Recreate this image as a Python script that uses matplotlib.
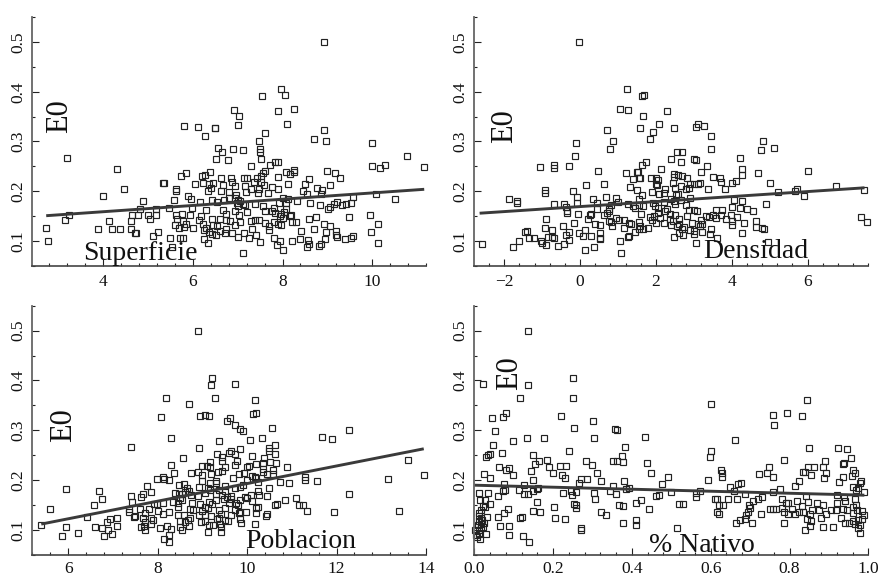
import matplotlib
matplotlib.use("Agg")
import matplotlib.pyplot as plt
from matplotlib.ticker import MultipleLocator

plt.rcParams['font.family'] = ['Liberation Serif', 'DejaVu Serif']

# readings: (x, E0)
superficie = [
(8.93,.50),(7.97,.405),(8.06,.393),(7.55,.391),(8.25,.365),(6.92,.364),(7.90,.362),(7.03,.351),(7.01,.333),(8.11,.335),
(5.81,.331),(6.12,.329),(6.49,.327),(6.50,.328),(8.93,.324),(7.62,.318),(6.28,.311),(8.71,.305),(8.97,.302),(7.47,.301),
(10.0,.297),(6.56,.286),(6.89,.284),(7.12,.283),(7.50,.284),(7.50,.279),(6.66,.278),(10.77,.270),(3.20,.267),(6.52,.265),
(7.51,.265),(6.78,.262),(7.83,.258),(7.89,.258),(7.71,.252),(7.29,.251),(10.0,.251),(10.29,.253),(11.16,.248),(10.18,.246),
(4.30,.245),(8.25,.243),(8.25,.239),(6.39,.238),(8.07,.238),(9.0,.240),(9.17,.236),(7.6,.24),(7.57,.236),(5.84,.236),
(5.73,.231),(8.16,.234),(6.2,.230),(6.27,.233),(9.29,.226),(8.6,.224),(6.63,.226),(6.85,.227),(7.44,.226),(7.15,.226),
(7.21,.226),(7.9,.228),(7.52,.231),(6.88,.218),(6.22,.217),(6.05,.215),(6.36,.215),(6.46,.216),(7.37,.218),(7.51,.218),
(7.58,.212),(6.95,.210),(6.68,.212),(7.17,.211),(8.12,.214),(8.5,.214),(9.05,.213),(5.34,.216),(5.35,.216),(5.63,.205),
(5.63,.201),(6.33,.200),(6.4,.206),(7.3,.205),(7.48,.205),(7.77,.209),(7.89,.205),(8.45,.200),(8.76,.207),(8.89,.203),
(4.46,.205),(6.62,.200),(6.8,.199),(7.18,.198),(7.46,.197),(7.68,.196),(8.55,.195),(8.85,.194),(6.97,.193),(6.94,.187),
(4.0,.191),(5.9,.190),(6.8,.187),(7.0,.183),(10.08,.194),(9.58,.188),(10.5,.184),(5.58,.183),(5.97,.184),(6.42,.183),
(6.7,.182),(7.05,.180),(8.0,.186),(8.12,.185),(8.33,.180),(4.89,.181),(6.17,.178),(6.53,.179),(6.98,.177),(7.13,.175),
(7.38,.175),(7.92,.177),(8.07,.176),(8.62,.177),(8.84,.172),(9.15,.175),(9.22,.178),(9.32,.172),(9.42,.174),(9.52,.177),
(5.98,.167),(5.47,.167),(7.0,.170),(7.17,.172),(7.57,.170),(7.8,.167),(8.07,.165),(9.02,.165),(9.07,.168),(4.83,.164),
(5.17,.165),(6.3,.163),(6.68,.162),(6.95,.160),(7.2,.158),(7.6,.160),(7.77,.160),(7.83,.157),(8.03,.158),(8.16,.150),
(8.2,.152),(3.24,.152),(4.65,.152),(4.78,.153),(5.0,.152),(5.18,.152),(5.62,.153),(5.75,.155),(5.93,.152),(6.18,.150),
(6.73,.155),(7.02,.152),(7.47,.143),(7.94,.150),(7.97,.155),(8.01,.147),(8.6,.144),(8.75,.149),(9.48,.148),(9.95,.152),
(3.14,.143),(4.13,.140),(4.62,.141),(5.05,.144),(5.65,.144),(5.78,.140),(6.13,.143),(6.43,.145),(6.6,.145),(6.75,.143),
(6.84,.141),(7.06,.138),(7.3,.140),(7.38,.142),(7.62,.136),(7.82,.138),(8.22,.138),(8.3,.138),(8.93,.135),(10.13,.135),
(5.6,.133),(5.85,.135),(6.23,.135),(6.45,.133),(6.55,.130),(6.95,.132),(7.7,.130),(7.9,.134),(7.96,.133),(9.07,.130),
(2.73,.127),(4.61,.125),(5.7,.127),(5.8,.128),(6.0,.126),(6.3,.127),(6.75,.125),(7.32,.125),(7.7,.123),(8.7,.125),
(3.89,.124),(4.2,.124),(4.38,.124),(5.22,.119),(6.25,.122),(6.37,.119),(6.6,.120),(6.72,.117),(6.88,.117),(7.15,.117),
(8.42,.120),(8.98,.118),(9.2,.120),(9.97,.118),(4.70,.116),(4.73,.116),(6.42,.114),(6.52,.113),(7.41,.112),(9.2,.113),
(5.12,.111),(5.5,.107),(5.72,.107),(5.79,.107),(6.25,.104),(7.0,.108),(7.25,.106),(7.8,.107),(8.4,.105),(8.94,.105),
(9.22,.108),(9.4,.105),(9.52,.107),(9.57,.111),(2.76,.100),(7.5,.099),(7.95,.100),(8.22,.100),(8.57,.102),(6.33,.096),
(8.6,.094),(8.85,.094),(10.13,.096),(7.87,.093),(8.55,.088),(8.82,.090),(5.54,.088),(8.02,.083),(7.13,.076),
]

densidad = [
(-.03,.50),(1.24,.405),(1.62,.392),(1.68,.393),(2.28,.362),(1.05,.366),(1.26,.364),(1.67,.351),(2.08,.335),(3.12,.335),
(3.05,.329),(3.27,.331),(2.47,.328),(1.58,.327),(.70,.324),(1.93,.319),(3.46,.311),(1.85,.305),(4.81,.301),(.87,.302),
(-.1,.297),(3.45,.284),(4.77,.283),(5.12,.286),(.8,.284),(2.55,.279),(2.7,.278),(-.14,.270),(4.22,.267),(2.4,.265),
(3.0,.265),(3.05,.262),(2.66,.258),(1.75,.258),(1.62,.252),(3.35,.251),(-.28,.251),(-.7,.253),(-.7,.246),(-1.06,.248),
(2.14,.244),(4.27,.244),(.46,.240),(6.0,.240),(3.18,.239),(1.53,.239),(1.5,.238),(1.2,.236),(4.7,.236),(4.26,.233),
(2.47,.235),(2.47,.228),(2.58,.232),(2.7,.231),(3.5,.229),(3.7,.227),(1.55,.227),(1.4,.225),(1.57,.226),(1.88,.227),
(2.0,.226),(2.05,.222),(2.81,.226),(4.1,.220),(3.72,.218),(4.0,.216),(3.1,.215),(3.17,.216),(3.0,.214),(2.45,.216),
(2.9,.214),(2.0,.215),(2.03,.212),(.15,.212),(.64,.214),(5.01,.216),(6.75,.211),(7.49,.203),(-.93,.203),(-.93,.196),
(-.2,.200),(1.32,.208),(2.25,.204),(2.5,.207),(2.67,.210),(2.8,.205),(2.87,.207),(3.37,.205),(3.82,.205),(5.22,.199),
(5.66,.201),(5.73,.204),(1.9,.198),(2.08,.195),(2.2,.197),(2.52,.192),(2.58,.195),(1.5,.202),(1.62,.193),(5.9,.191),
(-1.88,.184),(-1.67,.180),(-1.67,.177),(-.08,.188),(.68,.189),(.95,.187),(.35,.184),(1.55,.185),(2.4,.185),(2.47,.180),
(2.67,.183),(2.9,.187),(4.07,.183),(4.27,.181),(-.68,.175),(-.42,.174),(-.07,.176),(.44,.177),(.82,.172),(1.0,.179),
(1.25,.175),(1.4,.170),(1.55,.172),(1.65,.171),(1.92,.176),(1.97,.170),(2.2,.178),(2.5,.174),(2.8,.173),(4.89,.174),
(-.38,.168),(.45,.165),(.75,.165),(1.45,.166),(2.05,.167),(2.3,.165),(2.87,.162),(3.0,.162),(3.08,.160),(3.58,.163),
(3.73,.163),(4.0,.168),(4.22,.167),(4.4,.165),(4.57,.160),(-.35,.160),(-.05,.155),(-.34,.156),(.25,.153),(.3,.154),
(.62,.153),(.72,.157),(.75,.160),(1.6,.155),(2.05,.157),(2.25,.160),(2.37,.155),(2.5,.152),(3.4,.148),(3.5,.152),
(3.58,.146),(3.72,.152),(3.97,.152),(4.15,.149),(7.41,.149),(-.9,.144),(.2,.145),(.95,.146),(1.15,.143),(1.85,.148),
(1.95,.150),(2.1,.147),(2.38,.145),(2.62,.144),(2.82,.150),(3.2,.143),(3.33,.150),(3.85,.144),(4.0,.141),(4.65,.140),
(.75,.141),(.82,.138),(1.02,.143),(1.3,.137),(1.35,.135),(1.55,.138),(1.9,.142),(2.0,.137),(2.2,.137),(2.45,.140),
(2.6,.135),(2.95,.136),(3.1,.135),(3.15,.130),(3.22,.135),(4.33,.136),(7.56,.138),(-.15,.136),(.38,.134),(.53,.132),
(.85,.130),(1.57,.131),(1.8,.126),(1.65,.124),(2.4,.132),(2.55,.130),(2.75,.129),(4.0,.132),(4.65,.128),(-.46,.131),
(-.93,.126),(-.73,.123),(-.3,.118),(.13,.122),(1.15,.126),(2.7,.125),(2.9,.123),(3.0,.120),(3.45,.124),(4.8,.126),
(4.84,.124),(-1.4,.120),(-1.45,.118),(-.02,.116),(.52,.116),(1.45,.118),(1.55,.125),(2.62,.116),(2.72,.113),(3.0,.115),
(3.22,.119),(3.42,.115),(4.28,.116),(-.38,.112),(-.85,.108),(-.7,.107),(-.75,.108),(.07,.110),(.28,.111),(.53,.107),
(.53,.104),(1.25,.108),(1.3,.110),(2.47,.108),(3.62,.107),(-1.35,.106),(-1.22,.107),(-1.02,.100),(-.3,.103),(-1.62,.100),
(1.05,.100),(4.95,.099),(-1.0,.097),(-.9,.093),(3.05,.096),(-.42,.094),(-2.6,.094),(-1.77,.088),(-.58,.090),(.37,.089),
(.12,.082),(1.09,.076),
]

poblacion = [
(8.9,.50),(9.22,.404),(9.19,.391),(9.73,.393),(9.28,.365),(8.18,.364),(10.18,.361),(8.7,.352),(10.13,.333),(10.19,.335),
(8.07,.326),(9.07,.331),(8.95,.328),(9.16,.328),(9.63,.324),(9.55,.319),(9.74,.311),(10.56,.305),(9.84,.302),(9.91,.298),
(12.29,.300),(11.68,.286),(11.89,.283),(8.31,.284),(10.34,.284),(10.07,.280),(9.37,.278),(7.41,.267),(8.92,.265),(10.63,.270),
(10.5,.265),(10.5,.258),(9.84,.262),(9.64,.258),(9.59,.254),(9.33,.253),(10.63,.252),(9.72,.252),(10.1,.248),(9.45,.247),
(8.57,.245),(10.37,.244),(13.59,.240),(9.17,.237),(9.44,.238),(9.78,.239),(10.35,.235),(10.52,.236),(8.31,.231),(10.19,.232),
(10.65,.234),(9.0,.228),(9.11,.228),(9.18,.227),(10.9,.226),(9.72,.230),(10.0,.226),(10.05,.228),(9.5,.226),(9.45,.219),
(9.35,.216),(10.35,.222),(10.35,.216),(10.58,.220),(8.37,.215),(8.75,.214),(8.9,.216),(9.0,.210),(9.2,.212),(9.83,.213),
(9.93,.215),(10.45,.213),(10.58,.212),(10.1,.208),(10.17,.206),(10.2,.205),(13.95,.211),(13.16,.203),(11.29,.206),(11.29,.201),
(11.56,.199),(7.98,.203),(8.12,.206),(8.14,.202),(8.25,.200),(9.0,.199),(9.3,.199),(9.68,.205),(10.0,.200),(10.25,.196),
(10.94,.194),(10.73,.196),(9.3,.194),(9.17,.195),(8.48,.191),(8.6,.192),(8.93,.187),(9.5,.188),(9.85,.186),(9.9,.190),
(7.76,.189),(8.65,.185),(8.7,.178),(9.12,.184),(9.17,.180),(9.38,.180),(9.5,.178),(9.73,.185),(10.25,.178),(10.5,.184),
(5.96,.183),(6.7,.179),(7.85,.177),(7.67,.173),(7.41,.168),(7.62,.167),(8.4,.175),(8.47,.172),(8.55,.172),(8.62,.176),
(8.75,.170),(8.9,.168),(9.05,.175),(9.3,.172),(9.45,.170),(9.55,.166),(9.65,.168),(10.0,.165),(10.08,.170),(10.27,.171),
(10.45,.168),(12.29,.173),(11.1,.164),(10.84,.161),(6.76,.163),(8.5,.165),(8.55,.160),(9.3,.160),(9.48,.162),(9.65,.163),
(9.85,.160),(9.95,.167),(10.1,.158),(7.42,.157),(7.93,.153),(7.98,.152),(8.12,.155),(8.34,.156),(8.45,.155),(8.78,.155),
(8.94,.153),(9.15,.156),(9.22,.152),(9.6,.155),(9.75,.155),(9.8,.150),(10.62,.150),(10.67,.152),(11.16,.150),(11.24,.150),
(6.57,.151),(7.37,.143),(7.6,.142),(7.8,.143),(8.0,.138),(8.25,.137),(8.45,.147),(8.72,.142),(8.8,.141),(9.05,.147),
(9.13,.145),(9.0,.138),(9.37,.140),(9.5,.145),(9.72,.140),(9.85,.137),(9.97,.136),(10.2,.144),(10.25,.147),(5.59,.143),
(7.36,.136),(7.5,.128),(7.72,.135),(8.12,.132),(8.45,.131),(8.58,.130),(8.72,.125),(8.93,.131),(9.05,.130),(9.2,.128),
(9.42,.132),(9.65,.130),(9.82,.134),(10.2,.135),(10.42,.128),(10.45,.133),(11.34,.139),(11.95,.137),(13.39,.139),(6.43,.126),
(7.48,.127),(7.67,.125),(7.86,.125),(7.9,.120),(8.5,.118),(8.62,.117),(8.68,.120),(8.97,.116),(9.05,.118),(9.32,.122),
(9.38,.125),(9.5,.120),(9.57,.119),(9.85,.122),(9.87,.115),(6.93,.123),(7.1,.124),(6.87,.116),(7.72,.116),(7.85,.113),
(9.15,.111),(9.25,.110),(9.4,.112),(10.17,.112),(5.4,.111),(5.96,.107),(6.6,.107),(7.09,.108),(7.62,.106),(7.7,.108),
(8.06,.105),(8.22,.108),(8.5,.106),(8.7,.108),(9.42,.106),(6.76,.104),(6.9,.101),(7.72,.101),(8.3,.103),(8.55,.100),
(9.13,.096),(9.41,.097),(6.23,.094),(6.99,.093),(8.25,.090),(5.87,.088),(6.8,.089),(8.15,.082),(8.25,.077),
]

nativo = [
(.136,.50),(.022,.393),(.137,.391),(.251,.404),(.25,.365),(.115,.364),(.844,.361),(.602,.352),(.08,.335),(.074,.326),
(.046,.324),(.219,.328),(.759,.33),(.794,.334),(.832,.329),(.761,.311),(.30,.319),(.253,.305),(.052,.298),(.356,.302),
(.361,.301),(.098,.278),(.134,.284),(.176,.284),(.305,.284),(.434,.286),(.662,.28),(.048,.27),(.382,.267),(.849,.265),
(.923,.265),(.947,.262),(.241,.258),(.6,.258),(.029,.247),(.036,.251),(.04,.253),(.071,.254),(.15,.251),(.598,.246),
(.375,.248),(.955,.244),(.184,.24),(.163,.239),(.283,.238),(.353,.238),(.361,.238),(.377,.237),(.785,.24),(.891,.239),
(.439,.234),(.155,.232),(.298,.23),(.062,.227),(.087,.224),(.19,.226),(.217,.228),(.234,.228),(.748,.226),(.848,.226),
(.862,.227),(.884,.227),(.935,.232),(.939,.235),(.08,.22),(.145,.219),(.025,.212),(.097,.211),(.2,.214),(.222,.21),
(.311,.215),(.448,.215),(.626,.22),(.628,.215),(.722,.212),(.744,.214),(.759,.207),(.833,.216),(.839,.216),(.854,.21),
(.892,.215),(.888,.204),(.041,.205),(.148,.2),(.23,.204),(.272,.202),(.285,.203),(.266,.195),(.321,.199),(.492,.206),
(.628,.206),(.593,.2),(.824,.199),(.926,.197),(.936,.206),(.958,.208),(.96,.22),(.966,.214),(.379,.198),(.477,.192),
(.351,.189),(.648,.187),(.67,.192),(.676,.195),(.813,.189),(.075,.193),(.113,.18),(.125,.191),(.073,.178),(.079,.18),
(.148,.178),(.158,.183),(.162,.185),(.245,.178),(.257,.177),(.305,.175),(.344,.178),(.36,.172),(.385,.183),(.393,.185),
(.225,.175),(.127,.173),(.137,.173),(.013,.175),(.035,.175),(.06,.168),(.248,.17),(.46,.169),(.47,.17),(.499,.176),
(.563,.175),(.572,.179),(.563,.166),(.659,.178),(.686,.172),(.73,.167),(.72,.163),(.758,.176),(.775,.182),(.78,.163),
(.842,.168),(.92,.17),(.938,.167),(.97,.18),(.975,.185),(.98,.195),(.982,.198),(.99,.176),(.96,.186),(.965,.163),
(.014,.161),(.028,.16),(.04,.153),(.16,.157),(.203,.147),(.254,.152),(.257,.15),(.258,.144),(.306,.163),(.367,.15),
(.378,.148),(.41,.154),(.424,.16),(.443,.143),(.52,.153),(.53,.153),(.61,.162),(.617,.162),(.62,.15),(.63,.15),
(.644,.163),(.666,.163),(.697,.15),(.7,.145),(.708,.158),(.79,.155),(.797,.155),(.82,.158),(.832,.148),(.848,.157),
(.87,.155),(.885,.15),(.92,.155),(.94,.158),(.97,.15),(.96,.147),(.022,.148),(.028,.147),(.085,.142),(.15,.138),
(.168,.136),(.322,.137),(.335,.13),(.075,.135),(.017,.14),(.012,.135),(.615,.136),(.62,.132),(.69,.13),(.695,.137),
(.727,.132),(.75,.142),(.757,.142),(.765,.142),(.78,.145),(.785,.137),(.795,.132),(.807,.142),(.815,.132),(.825,.137),
(.835,.136),(.852,.132),(.858,.14),(.875,.14),(.893,.132),(.905,.14),(.917,.14),(.935,.143),(.945,.14),(.96,.135),
(.972,.14),(.985,.138),(.99,.13),(.06,.127),(.115,.124),(.121,.127),(.205,.125),(.231,.122),(.41,.12),(.675,.12),
(.688,.123),(.033,.127),(.011,.128),(.016,.125),(.02,.12),(.025,.115),(.013,.118),(.018,.112),(.01,.11),(.022,.106),
(.016,.104),(.012,.1),(.378,.115),(.41,.11),(.665,.115),(.705,.115),(.785,.115),(.845,.122),(.855,.118),(.88,.125),
(.93,.125),(.94,.115),(.95,.115),(.96,.118),(.975,.12),(.985,.122),(.965,.112),(.064,.109),(.087,.108),(.27,.105),
(.515,.105),(.852,.108),(.885,.107),(.91,.107),(.975,.105),(.98,.11),(.003,.1),(.27,.1),(.84,.1),(.98,.095),
(.03,.092),(.005,.09),(.013,.092),(.006,.087),(.087,.09),(.124,.088),(.014,.083),(.14,.077),
]

panels = [superficie, densidad, poblacion, nativo]

fit_x = [(2.73, 11.16), (-2.65, 7.5), (5.4, 13.95), (0.0, 0.99)]
fit_y = [(.151, .204), (.156, .207), (.112, .263), (.19, .17)]

names = ['Superficie', 'Densidad', 'Poblacion', '% Nativo']
name_pos = [(4.83, .076), (4.62, .08), (11.2, .077), (.577, .07)]
e0_pos = [(3.02, .35), (-2.0, .33), (5.89, .31), (.089, .414)]
xlims = [(2.42, 11.2), (-2.79, 7.6), (5.2, 14.0), (0.0, 1.0)]
xmajor = [2, 2, 2, .2]
xminor = [.4, .4, .4, .04]
xpad = [6, 6, 4.5, 4.5]

# axes boxes in figure pixels: left, right, top, bottom
boxes = [(32.3, 426, 17, 266), (474.3, 868.3, 17, 266),
         (32.3, 426, 305.7, 555), (474.3, 868.3, 305.7, 555)]

W, H = 880, 577
fig = plt.figure(figsize=(W / 100, H / 100), dpi=100)

for i in range(4):
    l, r, t, b = boxes[i]
    ax = fig.add_axes([l / W, 1 - b / H, (r - l) / W, (b - t) / H])
    xs = [p[0] for p in panels[i]]
    ys = [p[1] for p in panels[i]]
    ax.plot(xs, ys, 's', ms=4.3, mfc='none', mec='#222222', mew=0.85, clip_on=False)
    ax.plot(fit_x[i], fit_y[i], color='#3a3a3a', lw=2.1, solid_capstyle='butt')
    ax.set_xlim(xlims[i])
    ax.set_ylim(.05, .55)
    ax.spines['top'].set_visible(False)
    ax.spines['right'].set_visible(False)
    ax.spines['left'].set_color('#666666')
    ax.spines['left'].set_linewidth(1.3)
    ax.spines['bottom'].set_color('#444444')
    ax.spines['bottom'].set_linewidth(1.2)
    ax.xaxis.set_major_locator(MultipleLocator(xmajor[i]))
    ax.xaxis.set_minor_locator(MultipleLocator(xminor[i]))
    ax.yaxis.set_major_locator(MultipleLocator(.1))
    ax.yaxis.set_minor_locator(MultipleLocator(.05))
    ax.tick_params(which='major', direction='in', length=5, width=0.8, color='#222222', labelsize=12.5, labelcolor='#111111')
    ax.tick_params(which='minor', direction='in', length=2.3, width=0.8, color='#222222')
    ax.tick_params(axis='x', which='major', pad=xpad[i])
    ax.tick_params(axis='y', which='major', pad=4.5)
    for lab in ax.get_yticklabels():
        lab.set_rotation(90)
        lab.set_va('center')
    ax.text(name_pos[i][0], name_pos[i][1], names[i], fontsize=20, ha='center', va='center', color='#111111')
    ax.text(e0_pos[i][0], e0_pos[i][1], 'E0', fontsize=22, rotation=90, ha='center', va='center', color='#111111')

fig.savefig('out.png', dpi=100)
